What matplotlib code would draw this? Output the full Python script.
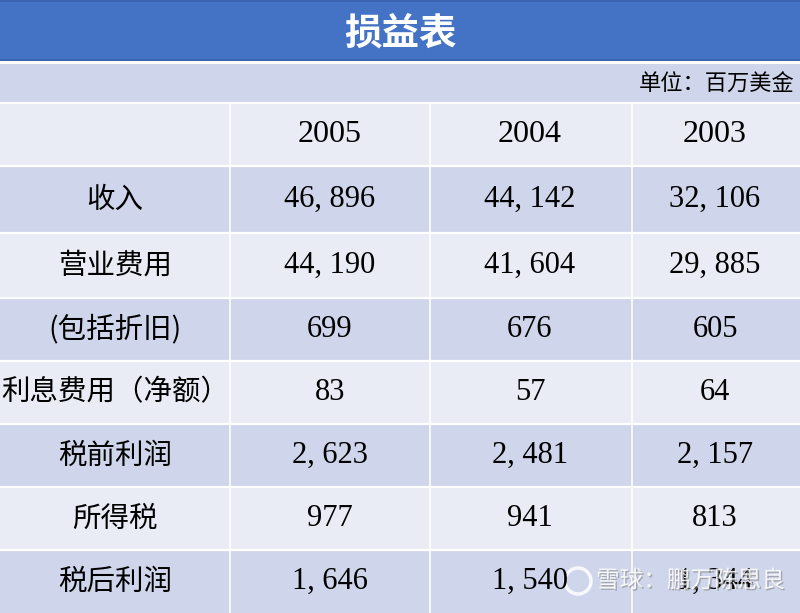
import matplotlib.pyplot as plt
import matplotlib.patheffects as pe
from matplotlib.patches import Rectangle, Circle

plt.rcParams['font.family'] = ['Noto Sans CJK SC', 'DejaVu Sans']

title = '损益表'
unit_label = '单位：百万美金'
years = ['2005', '2004', '2003']
row_labels = ['收入', '营业费用', '(包括折旧)', '利息费用（净额）', '税前利润', '所得税', '税后利润']
values_2005 = [46896, 44190, 699, 83, 2623, 977, 1646]
values_2004 = [44142, 41604, 676, 57, 2481, 941, 1540]
values_2003 = [32106, 29885, 605, 64, 2157, 813, 1344]
watermark = '雪球：鹏万陈思良'

W, H = 800, 613
col_edges = [0, 230, 430, 632, 800]
row_edges = [103, 166, 233, 298, 361, 424, 487, 550, 613]

BLUE = '#4472C4'
DARK = '#CFD5EA'
LIGHT = '#E9EBF5'

fig = plt.figure(figsize=(8, 6.13), dpi=100)
ax = fig.add_axes([0, 0, 1, 1])
ax.set_xlim(0, W)
ax.set_ylim(H, 0)
ax.axis('off')
fig.patch.set_facecolor('white')

# title bar
ax.add_patch(Rectangle((0, 0), W, 61, facecolor=BLUE, edgecolor='none'))
ax.plot([0, W], [60, 60], color='#3A62AC', lw=1.2)
ax.plot([0, W], [0.5, 0.5], color='#3A62AC', lw=1.2)
ax.text(W / 2, 33, title, color='white', fontsize=27, fontweight='bold',
        ha='center', va='center')

# unit row
ax.add_patch(Rectangle((0, 64), W, 38, facecolor=DARK, edgecolor='none'))
ax.text(795, 84, unit_label, fontsize=16, ha='right', va='center', color='black')


def fmt(v):
    return f'{v:,}'.replace(',', ', ')


num_font = ['Liberation Serif', 'Noto Sans CJK SC']

for i in range(len(row_edges) - 1):
    y0, y1 = row_edges[i], row_edges[i + 1]
    color = LIGHT if i % 2 == 0 else DARK
    ax.add_patch(Rectangle((0, y0), W, y1 - y0, facecolor=color, edgecolor='none'))

# grid lines
for y in row_edges[:-1]:
    ax.plot([0, W], [y, y], color='white', lw=1.6)
for x in col_edges[1:-1]:
    ax.plot([x, x], [row_edges[0], H], color='white', lw=1.2)

col_centers = [115, 330, 530, 715]
yc = [(row_edges[i] + row_edges[i + 1]) / 2 for i in range(len(row_edges) - 1)]

for j, yr in enumerate(years):
    ax.text(col_centers[j + 1], yc[0], yr, fontsize=23, family=num_font,
            ha='center', va='center', color='black')

for i, lab in enumerate(row_labels):
    y = yc[i + 1]
    ax.text(col_centers[0], y, lab, fontsize=20.5, ha='center', va='center', color='black')
    for j, vals in enumerate([values_2005, values_2004, values_2003]):
        ax.text(col_centers[j + 1], y, fmt(vals[i]), fontsize=22, family=num_font,
                ha='center', va='center', color='black')

# watermark
shadow = [pe.withSimplePatchShadow(offset=(1, -1), shadow_rgbFace='#888888', alpha=0.6)]
ax.add_patch(Circle((578, 581), 13, facecolor='none', edgecolor='white', lw=2.5,
                    alpha=0.85))
ax.text(596, 581, watermark, fontsize=17, ha='left', va='center', color='white',
        alpha=0.85, path_effects=shadow)

fig.savefig('out.png', dpi=100)
